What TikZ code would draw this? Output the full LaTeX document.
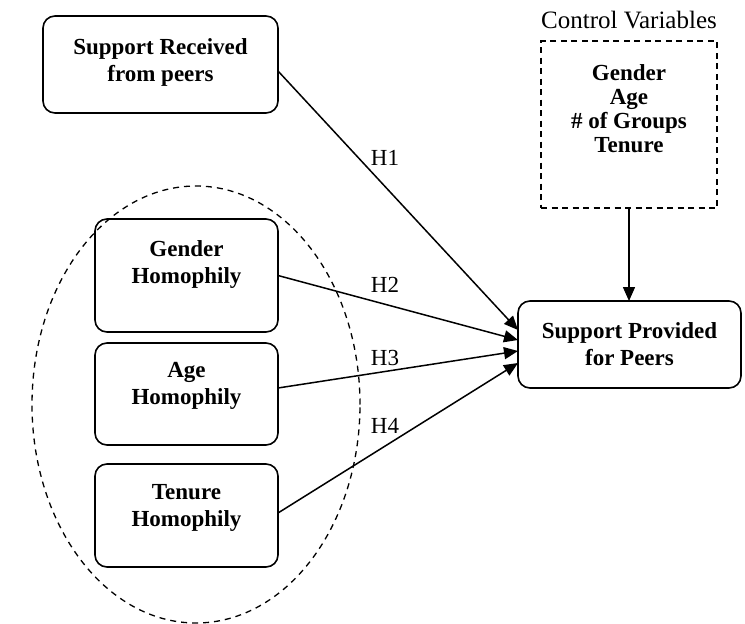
\documentclass[tikz,border=0pt]{standalone}
\usepackage{fontspec}
\setmainfont{Liberation Serif}
\usetikzlibrary{arrows.meta,shapes.geometric}
\newcommand{\xdepth}[1]{\rule[-#1pt]{0pt}{0pt}}
\begin{document}
\begin{tikzpicture}[x=1pt,y=-1pt,
  rbox/.style={draw,rounded corners=12pt,line width=1.6pt,inner sep=0pt,outer sep=0pt,
    align=center,font=\fontsize{23}{27}\selectfont\bfseries},
  cvbox/.style={draw,dash pattern=on 6pt off 4.5pt,line width=1.6pt,inner sep=0pt,outer sep=0pt,
    align=center,font=\fontsize{23}{24}\selectfont\bfseries},
  grpell/.style={draw,ellipse,dash pattern=on 6pt off 5pt,line width=1.3pt,inner sep=0pt},
  hyp/.style={-{Triangle[length=14pt,width=12pt]},line width=1.5pt},
  hlabel/.style={anchor=base,font=\fontsize{23}{27}\selectfont,inner sep=0pt},
  ]
\useasboundingbox (0,0) rectangle (745,624);
% group ellipse
\node[grpell,minimum width=328pt,minimum height=437pt] (grp) at (196,404.5) {};
% boxes
\node[rbox,minimum width=235pt,minimum height=97pt] (sr) at (160.5,64.5)
  {Support Received\\from peers\xdepth{9.6}};
\node[rbox,minimum width=183pt,minimum height=113pt] (gh) at (186.5,275.5)
  {Gender\\Homophily\xdepth{27.6}};
\node[rbox,minimum width=183pt,minimum height=102pt] (ah) at (186.5,394)
  {Age\\Homophily\xdepth{20.6}};
\node[rbox,minimum width=183pt,minimum height=103pt] (th) at (186.5,515.5)
  {Tenure\\Homophily\xdepth{19.6}};
\node[rbox,minimum width=223pt,minimum height=87pt] (sp) at (629.5,344.5)
  {Support Provided\\for Peers};
\node[cvbox,minimum width=176pt,minimum height=167pt] (cv) at (629,124.5)
  {Gender\\Age\\\# of Groups\\Tenure\xdepth{32.6}};
\node[anchor=base,font=\fontsize{25}{28}\selectfont,inner sep=0pt] (cvl) at (629,28) {Control Variables};
% connectors
\draw[hyp] ([yshift=-6.5pt]sr.east) -- ([yshift=14.5pt]sp.west);
\draw[hyp] (gh.east) -- ([yshift=4.5pt]sp.west);
\draw[hyp] ([yshift=6pt]ah.east) -- ([yshift=-6.5pt]sp.west);
\draw[hyp] ([yshift=2.5pt]th.east) -- ([yshift=-18.5pt]sp.west);
\draw[hyp] (cv.south) -- (cv.south |- sp.north);
% labels
\node[hlabel] (h1) at (385,165) {H1};
\node[hlabel] (h2) at (385,292) {H2};
\node[hlabel] (h3) at (385,365) {H3};
\node[hlabel] (h4) at (385,433) {H4};
\end{tikzpicture}
\end{document}
